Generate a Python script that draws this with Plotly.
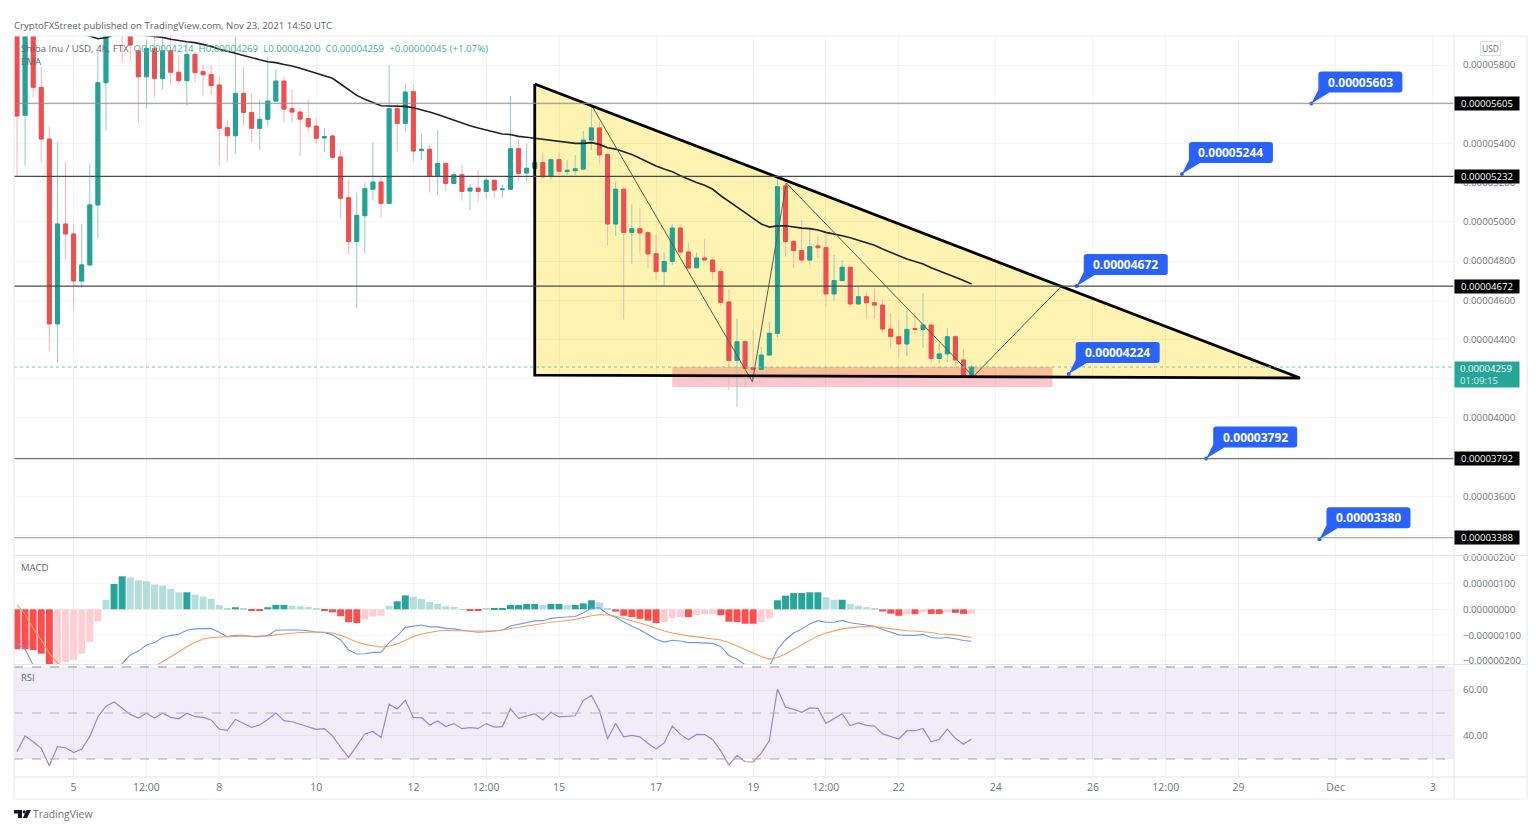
import numpy as np
import plotly.graph_objects as go
from plotly.subplots import make_subplots

W, H = 1536, 840
E8 = 1e-8  # every price list below is in units of 0.00000001 USD

opens = [6000,5543,6010,5686,5422,4479,4989,4938,4698,4780,5086,5710,6000,6060,5970,5873,5740,5885,5732,5873,
         5763,5720,5854,5766,5751,5698,5480,5439,5655,5558,5477,5523,5616,5718,5577,5560,5527,5488,5428,5438,
         5331,5123,4899,5031,5166,5203,5094,5577,5502,5664,5363,5370,5234,5298,5196,5240,5157,5172,5155,5212,
         5164,5166,5373,5249,5273,5302,5234,5317,5256,5261,5269,5417,5479,5344,4989,5166,4946,4965,4945,4837,
         4746,4798,4968,4846,4766,4815,4805,4747,4591,4293,4388,4256,4247,4320,4431,5183,4900,4853,4805,4877,
         4868,4632,4700,4768,4581,4618,4587,4575,4453,4414,4377,4455,4451,4473,4303,4326,4414,4295,4214]
highs = [6040,6050,6050,5791,5485,5405,5305,4990,4990,5298,5877,6080,6100,6090,6000,5890,5930,5950,5936,5948,
         5851,5910,5868,5800,5800,5740,5523,5945,5791,5655,5621,5842,5778,5740,5676,5579,5625,5528,5477,5448,
         5366,5213,5149,5196,5407,5230,5800,5604,5706,5703,5446,5392,5468,5300,5257,5290,5193,5264,5234,5214,
         5193,5642,5417,5400,5341,5353,5324,5353,5315,5341,5463,5596,5511,5344,5205,5176,5089,5072,4950,4933,
         4843,4989,4989,4890,4843,4911,4817,4763,4655,4506,4397,4448,4363,4490,5230,5205,4908,5009,4967,4924,
         4950,4831,4805,4775,4669,4644,4661,4604,4533,4499,4553,4536,4635,4482,4380,4457,4422,4349,4269]
lows = [5234,5286,5635,5303,4342,4283,4808,4545,4661,4771,4916,5465,5960,5810,5822,5502,5579,5638,5676,5698,
        5703,5591,5710,5644,5647,5285,5307,5349,5494,5404,5366,5489,5613,5506,5506,5336,5460,5400,5358,5325,
        5018,4834,4558,4839,5108,5021,5090,5358,5460,5307,5315,5149,5137,5159,5193,5108,5060,5103,5116,5121,
        5120,5162,5205,5205,5234,5222,5217,5239,5239,5239,5267,5366,5298,4882,4928,4502,4785,4843,4763,4703,
        4669,4780,4826,4763,4762,4805,4700,4570,4142,4057,4159,4184,4245,4318,4411,4822,4763,4788,4780,4814,
        4564,4598,4698,4567,4577,4502,4507,4434,4354,4308,4315,4431,4358,4278,4278,4286,4252,4206,4200]
closes = [5540,5990,5686,5422,4479,4989,4938,4698,4780,5086,5710,6000,6060,5970,5902,5740,5885,5732,5873,5763,
          5720,5854,5761,5751,5695,5477,5439,5655,5558,5477,5523,5616,5718,5575,5560,5524,5485,5426,5434,5329,
          5120,4899,5033,5169,5203,5094,5577,5502,5662,5361,5370,5234,5298,5196,5240,5155,5172,5155,5212,5162,
          5167,5373,5247,5273,5302,5230,5317,5258,5263,5271,5417,5479,5341,4989,5166,4946,4965,4943,4836,4746,
          4798,4968,4846,4764,4815,4805,4746,4589,4293,4388,4252,4247,4320,4431,5179,4899,4853,4805,4873,4868,
          4632,4700,4768,4581,4618,4587,4575,4453,4414,4377,4451,4451,4473,4303,4326,4414,4295,4210,4259]

ema_bars = list(range(8, 119))
ema_values = [5958,5948,5934,5939,5955,5960,5960,5955,5950,5945,5941,5931,5924,5919,5914,5905,5895,5880,5871,5860,
              5849,5837,5827,5817,5812,5803,5795,5783,5771,5757,5744,5732,5703,5672,5645,5625,5609,5592,5591,5589,
              5589,5582,5572,5560,5548,5533,5519,5504,5490,5479,5468,5458,5448,5445,5436,5431,5426,5421,5416,5411,
              5404,5400,5400,5404,5395,5378,5371,5358,5343,5324,5303,5285,5269,5256,5235,5217,5200,5186,5166,5133,
              5103,5077,5047,5018,4989,4973,4979,4980,4973,4968,4965,4958,4946,4939,4929,4919,4907,4895,4880,4861,
              4843,4827,4810,4798,4785,4766,4751,4735,4717,4700,4683]

hist = [-155,-155,-158,-172,-215,-210,-204,-195,-172,-127,-47,37,98,128,123,112,109,96,92,79,
        66,66,57,49,40,17,3,8,5,-5,-5,8,17,17,14,12,9,3,-3,-12,
        -27,-50,-53,-40,-28,-25,14,31,54,48,40,28,21,12,9,1,-5,-5,3,3,
        3,17,17,21,21,17,21,21,17,17,23,35,27,2,-9,-25,-30,-37,-44,-53,
        -49,-34,-30,-30,-22,-19,-18,-23,-48,-50,-56,-56,-49,-35,35,53,63,63,66,66,
        47,37,37,21,14,8,4,-8,-17,-25,-19,-19,-10,-18,-18,-12,-14,-18,-17]
macd_line = [-132,-155,-216,-290,-380,-420,-430,-420,-400,-370,-340,-300,-240,-211,-177,-162,-138,-129,-109,-101,
             -97,-81,-76,-74,-74,-89,-106,-101,-101,-106,-106,-101,-81,-80,-79,-80,-83,-88,-90,-99,
             -119,-158,-173,-172,-167,-167,-129,-103,-70,-65,-61,-68,-68,-74,-75,-81,-85,-89,-87,-84,
             -80,-65,-59,-52,-45,-44,-35,-32,-31,-28,-13,4,6,-18,-31,-50,-66,-79,-97,-116,
             -127,-120,-123,-129,-129,-130,-132,-145,-178,-194,-214,-260,-290,-222,-155,-119,-92,-76,-57,-44,
             -50,-50,-43,-52,-57,-61,-66,-78,-88,-99,-101,-101,-97,-109,-112,-109,-114,-121,-124]
signal_line = [17,-18,-74,-119,-171,-209,-225,-238,-245,-250,-248,-240,-238,-232,-225,-220,-217,-220,-203,-183,
               -163,-145,-128,-115,-109,-107,-106,-103,-103,-105,-105,-103,-99,-97,-93,-90,-88,-88,-89,-92,
               -101,-115,-127,-136,-142,-146,-143,-134,-120,-106,-96,-89,-84,-81,-81,-83,-84,-84,-84,-84,
               -80,-75,-70,-65,-59,-54,-50,-47,-43,-39,-32,-25,-21,-22,-27,-35,-44,-53,-63,-75,
               -84,-92,-98,-103,-107,-111,-114,-119,-129,-142,-155,-171,-183,-193,-187,-173,-156,-138,-119,-103,
               -92,-83,-76,-72,-68,-67,-67,-71,-75,-79,-83,-84,-87,-90,-96,-97,-99,-105,-109]
rsi_values = [33.2,40,37.5,34.6,27.1,35.4,34.9,32.8,34.3,39.7,48.4,53,54.8,52.3,49.4,47.8,49.9,47.8,49.9,48.1,
              47.5,49.9,48.4,48.1,47,43,42.5,47.2,45.5,43.8,44.8,47.2,50,46.7,46.2,45.2,44.1,42.9,43.2,40,
              35.1,30.7,35.7,40.9,42,39.4,53.8,51.7,55.5,48,48,44.8,46.5,44.1,45.4,43.2,43.6,43.3,45.4,43.9,
              44.1,51.9,47.7,48.6,49.7,47,50.3,48.3,48.4,48.8,55.4,57.7,51,38.7,45.5,39.6,40.3,39.6,36.7,34.3,
              37,44.3,40.7,38.4,40.7,40.6,38.4,33.5,27.4,31.6,28.8,28.7,32.5,38,60.4,52.6,51.6,50.3,52.2,52,
              45.5,47.5,49.7,44.5,45.7,44.6,44.3,40.9,39.9,38.7,42.3,42.3,43.3,37.5,38.6,43,39,36.4,38.7]

bars = list(range(len(opens)))

time_tick_bars = [7, 16, 25, 37, 49, 58, 67, 79, 91, 100, 109, 121, 133, 142, 151, 163, 175]
time_tick_text = ["5", "12:00", "8", "10", "12", "12:00", "15", "17", "19", "12:00", "22", "24", "26", "12:00", "29", "Dec", "3"]
price_ticks = [3400, 3600, 3800, 4000, 4200, 4400, 4600, 4800, 5000, 5200, 5400, 5600, 5800]
price_tick_text = ["", "0.00003600", "", "0.00004000", "", "0.00004400", "0.00004600", "0.00004800",
                   "0.00005000", "0.00005200", "0.00005400", "", "0.00005800"]
macd_ticks = [-200, -100, 0, 100, 200]
rsi_ticks = [40, 60]

level_prices = [5605, 5232, 4672, 3792, 3388]
level_colors = ["#8f8f8f", "#4a4a4a", "#4a4a4a", "#777777", "#999999"]

triangle_x = [64, 64, 158.6, 64]
triangle_y = [5703, 4218, 4203, 5703]
zone_x = [81, 128, 128, 81]
zone_y = [4259, 4259, 4157, 4157]
swing_x = [71, 90.9, 95.1, 118.2, 129]
swing_y = [5596, 4184, 5198, 4210, 4667]

callout_bars = [160, 144, 131, 130, 147, 161]
callout_prices = [5603, 5244, 4672, 4224, 3792, 3380]

last_price = 4259
countdown = "01:09:15"

TEAL, RED = "#22a394", "#f04e4e"
TEAL_W, RED_W = "#8fcfc7", "#f9b4b4"
TEAL_L, RED_L = "#b2dfdb", "#ffcdd2"
GRID = "rgba(60,70,100,0.055)"
FRAME = "#e9ebef"
AXTXT = "#6f737d"
BLUE = "#2962ff"
FONT = "Open Sans"


def e8(seq):
    return (np.asarray(seq, dtype=float) * E8).tolist()


def xp(px):
    return px / W


def yp(py):
    return 1 - py / H


def data_path(xs, ys):
    return "M" + " L".join(f"{a},{b * E8}" for a, b in zip(xs, ys)) + " Z"


def hist_colors():
    out = []
    for i, v in enumerate(hist):
        prev = hist[i - 1] if i else v
        growing = abs(v) >= abs(prev)
        if v >= 0:
            out.append("#26a69a" if growing else TEAL_L)
        else:
            out.append("#ff4d4d" if growing else RED_L)
    return out


fig = make_subplots(rows=3, cols=1, shared_xaxes=False)

# yellow triangle and support zone sit under the candles
fig.add_shape(type="path", xref="x", yref="y", path=data_path(triangle_x, triangle_y),
              fillcolor="#fef3b0", line=dict(width=0), layer="below")
fig.add_shape(type="path", xref="x", yref="y", path=data_path(zone_x, zone_y),
              fillcolor="rgba(247,82,95,0.32)", line=dict(width=0), layer="below")

# main pane
fig.add_trace(go.Candlestick(x=bars, open=e8(opens), high=e8(highs), low=e8(lows), close=e8(closes),
                             whiskerwidth=0,
                             increasing=dict(line=dict(color=TEAL_W, width=1), fillcolor=TEAL_W),
                             decreasing=dict(line=dict(color=RED_W, width=1), fillcolor=RED_W)), row=1, col=1)
fig.add_trace(go.Candlestick(x=bars, open=e8(opens), close=e8(closes),
                             high=e8(np.maximum(opens, closes)), low=e8(np.minimum(opens, closes)),
                             whiskerwidth=0,
                             increasing=dict(line=dict(color=TEAL, width=1), fillcolor=TEAL),
                             decreasing=dict(line=dict(color=RED, width=1), fillcolor=RED)), row=1, col=1)
fig.add_trace(go.Scatter(x=ema_bars, y=e8(ema_values), mode="lines",
                         line=dict(color="#222222", width=1.6), hoverinfo="skip"), row=1, col=1)
fig.add_trace(go.Scatter(x=swing_x, y=e8(swing_y), mode="lines",
                         line=dict(color="#5c5c50", width=1), hoverinfo="skip"), row=1, col=1)
fig.add_trace(go.Scatter(x=triangle_x, y=e8(triangle_y), mode="lines",
                         line=dict(color="#000000", width=2.8), hoverinfo="skip"), row=1, col=1)

# MACD pane
fig.add_trace(go.Bar(x=bars, y=e8(hist), width=0.86, marker=dict(color=hist_colors(), line=dict(width=0)),
                     hoverinfo="skip"), row=2, col=1)
fig.add_trace(go.Scatter(x=bars, y=e8(macd_line), mode="lines", line=dict(color="#6f95f5", width=1.1),
                         hoverinfo="skip"), row=2, col=1)
fig.add_trace(go.Scatter(x=bars, y=e8(signal_line), mode="lines", line=dict(color="#f59f5f", width=1.1),
                         hoverinfo="skip"), row=2, col=1)

# RSI pane
fig.add_trace(go.Scatter(x=bars, y=rsi_values, mode="lines", line=dict(color="#9f86d2", width=1.2),
                         hoverinfo="skip"), row=3, col=1)

x_common = dict(range=[-0.37, 177.63], domain=[xp(14), xp(1454)], tickmode="array",
                tickvals=time_tick_bars, ticktext=time_tick_text, showgrid=True, gridcolor=GRID, gridwidth=1,
                zeroline=False, showline=False, ticks="", rangeslider=dict(visible=False),
                tickfont=dict(family=FONT, size=10.5, color=AXTXT))
fig.update_layout(xaxis=dict(x_common, showticklabels=False),
                  xaxis2=dict(x_common, showticklabels=False),
                  xaxis3=dict(x_common, showticklabels=True, ticklabelstandoff=2))

y_common = dict(side="right", showgrid=True, gridcolor=GRID, gridwidth=1, zeroline=False, showline=False,
                ticks="", tickmode="array", ticklabelstandoff=8,
                tickfont=dict(family=FONT, size=9.7, color=AXTXT))
fig.update_layout(
    yaxis=dict(y_common, domain=[yp(555), yp(36)], range=[3300 * E8, 5948 * E8],
               tickvals=e8(price_ticks), ticktext=price_tick_text),
    yaxis2=dict(y_common, domain=[yp(664), yp(556)], range=[-212 * E8, 206.6 * E8],
                tickvals=e8(macd_ticks), tickformat=".8f"),
    yaxis3=dict(y_common, domain=[yp(777), yp(665)], range=[22.17, 70.87],
                tickvals=rsi_ticks, tickformat=".2f"),
)

# RSI band and bounds
fig.add_shape(type="rect", xref="x3 domain", yref="y3", x0=0, x1=1, y0=30, y1=70,
              fillcolor="#f0edf8", line=dict(width=0), layer="below")
for lvl, col in zip([70, 50, 30], ["#8f8e99", "#b4b1bf", "#a5a3b0"]):
    fig.add_shape(type="line", xref="x3 domain", yref="y3", x0=0, x1=1, y0=lvl, y1=lvl,
                  line=dict(color=col, width=1, dash="dash"))

# horizontal levels and price labels
for p, col in zip(level_prices, level_colors):
    fig.add_shape(type="line", xref="x domain", yref="y", x0=0, x1=1, y0=p * E8, y1=p * E8,
                  line=dict(color=col, width=1.2))
    fig.add_annotation(xref="paper", yref="y", x=xp(1454), y=p * E8, xanchor="left", yanchor="middle",
                       text=f"{p * E8:.8f}", showarrow=False, bgcolor="#000000", width=64, height=13, borderpad=0,
                       font=dict(family=FONT, size=9.6, color="#ffffff"))
fig.add_shape(type="line", xref="x domain", yref="y", x0=0, x1=1, y0=last_price * E8, y1=last_price * E8,
              line=dict(color="#7cc4bb", width=1, dash="dot"))
fig.add_annotation(xref="paper", yref="y", x=xp(1454), y=4290 * E8, xanchor="left", yanchor="top",
                   text=f"&nbsp;&nbsp;{last_price * E8:.8f}<br>&nbsp;&nbsp;<span style='color:#d4efeb'>{countdown}</span>",
                   showarrow=False, bgcolor="#26a69a", width=64, height=25, borderpad=0, align="left",
                   font=dict(family=FONT, size=9.6, color="#ffffff"))

# blue callouts: rounded box with a wedge, sized in pixels and anchored on the data point
CALLOUT_PATH = ("M0,0 L7,14 L7,29 Q7,32 10,32 L88,32 Q91,32 91,29 L91,14 Q91,11 88,11 L18,11 Z")
for b, p in zip(callout_bars, callout_prices):
    fig.add_shape(type="path", xsizemode="pixel", ysizemode="pixel", xref="x", yref="y",
                  xanchor=b, yanchor=p * E8, path=CALLOUT_PATH, fillcolor=BLUE, line=dict(width=0))
    fig.add_annotation(xref="x", yref="y", x=b, y=p * E8, xshift=49, yshift=21.5, showarrow=False,
                       text=f"<b>{p * E8:.8f}</b>", font=dict(family=FONT, size=12, color="#ffffff"))
fig.add_trace(go.Scatter(x=callout_bars, y=e8(callout_prices), mode="markers",
                         marker=dict(color=BLUE, size=4), hoverinfo="skip"), row=1, col=1)


def text(px, py, s, size=10.5, color=AXTXT, **kw):
    fig.add_annotation(xref="paper", yref="paper", x=xp(px), y=yp(py), text=s, showarrow=False,
                       xanchor="left", yanchor="middle", font=dict(family=FONT, size=size, color=color), **kw)


text(12, 25, "CryptoFXStreet published on TradingView.com, Nov 23, 2021 14:50 UTC", size=9.6, color="#5f636d")
text(19, 48, "Shiba Inu / USD, 4h, FTX&nbsp;&nbsp;<span style='color:#3fb0a4'>O0.00004214&nbsp;&nbsp;H0.00004269&nbsp;&nbsp;"
             "L0.00004200&nbsp;&nbsp;C0.00004259&nbsp;&nbsp;+0.00000045 (+1.07%)</span>", size=9.7, color="#666a73")
text(19, 62, "EMA", size=9.7, color="#666a73")
text(19, 567.5, "MACD", size=9.5, color="#666a73")
text(19, 677, "RSI", size=9.5, color="#666a73")
text(31, 814, "TradingView", size=10.4, color="#6f737d")
fig.add_annotation(xref="paper", yref="paper", x=xp(1490.5), y=yp(48.5), xanchor="center", yanchor="middle",
                   text="USD", showarrow=False, bordercolor="#dfe1e6", borderwidth=1, borderpad=1, bgcolor="#ffffff",
                   font=dict(family=FONT, size=8.5, color=AXTXT))


def frame_line(x0, y0, x1, y1, color=FRAME):
    fig.add_shape(type="line", xref="paper", yref="paper", x0=xp(x0), y0=yp(y0), x1=xp(x1), y1=yp(y1),
                  line=dict(color=color, width=1.2))


frame_line(14, 36, 1527, 36)
frame_line(14, 799, 1527, 799)
frame_line(14, 36, 14, 799)
frame_line(1527, 36, 1527, 799)
frame_line(1454, 36, 1454, 799)
frame_line(14, 555.5, 1527, 555.5, "#e3e4e8")
frame_line(14, 664.5, 1527, 664.5, "#e3e4e8")
frame_line(14, 777, 1527, 777, "#e3e4e8")


def logo_path(points):
    return "M" + " L".join(f"{xp(a)},{yp(b)}" for a, b in points) + " Z"


for pts in ([(14, 810), (22, 810), (22, 818), (18, 818), (18, 813.5), (14, 813.5)],
            [(26.5, 810), (31, 810), (27, 818), (22.8, 818)]):
    fig.add_shape(type="path", xref="paper", yref="paper", path=logo_path(pts),
                  fillcolor="#131722", line=dict(width=0))
fig.add_shape(type="circle", xref="paper", yref="paper", x0=xp(22.6), x1=xp(25.6), y0=yp(813.4), y1=yp(810.2),
              fillcolor="#131722", line=dict(width=0))

fig.update_layout(width=W, height=H, margin=dict(l=0, r=0, t=0, b=0), showlegend=False, template="none",
                  paper_bgcolor="#ffffff", plot_bgcolor="#ffffff", barmode="overlay",
                  font=dict(family=FONT, color=AXTXT))

fig.write_html("out.html", post_script="document.body.style.margin='0';",
               config=dict(displayModeBar=False))
